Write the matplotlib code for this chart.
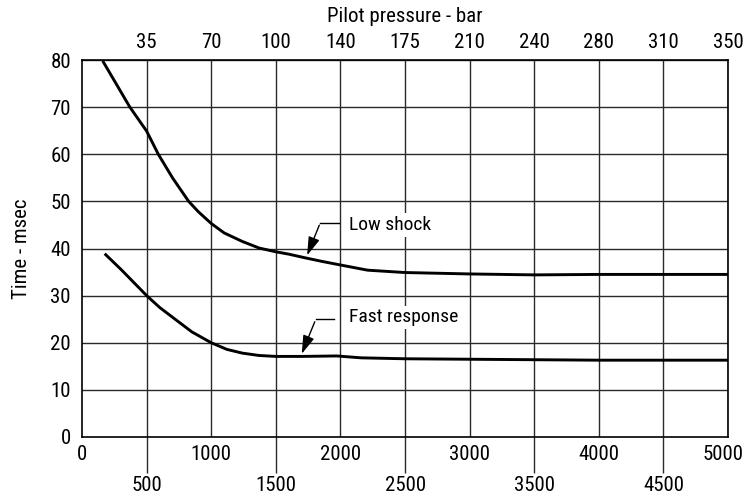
import matplotlib
matplotlib.use("Agg")
import matplotlib.pyplot as plt
from matplotlib import font_manager
from matplotlib.transforms import ScaledTranslation
import numpy as np

# pick a condensed sans if one is installed, else Roboto
names = sorted({f.name for f in font_manager.fontManager.ttflist})
choice = None
stretch = 'normal'
for cand in ['Liberation Sans Narrow', 'Roboto Condensed', 'Open Sans Condensed', 'Noto Sans Condensed']:
    if cand in names:
        choice = cand
        break
if choice is None:
    cond = [f for f in font_manager.fontManager.ttflist
            if f.name == 'DejaVu Sans' and str(f.stretch) in ('condensed', 'semi-condensed', '87.5', '75')]
    if cond:
        choice = 'DejaVu Sans'
        stretch = 'condensed'
    else:
        choice = 'Roboto'
plt.rcParams['font.family'] = [choice, 'DejaVu Sans']
plt.rcParams['font.stretch'] = stretch

# Data (psi on bottom axis, msec on y)
low_psi = [160, 370, 500, 590, 700, 825, 900, 1000, 1100, 1240, 1370, 1500, 1600, 1730, 1850, 2000, 2210, 2500, 3000, 3500, 4000, 4500, 5000]
low_ms = [79.8, 70.0, 64.9, 60.0, 55.0, 50.0, 47.8, 45.3, 43.3, 41.5, 40.1, 39.3, 38.8, 38.0, 37.3, 36.5, 35.4, 34.9, 34.6, 34.4, 34.5, 34.5, 34.5]
fast_psi = [175, 300, 400, 500, 600, 720, 850, 1000, 1120, 1240, 1370, 1500, 1700, 1970, 2160, 2500, 3000, 3500, 4000, 4500, 5000]
fast_ms = [38.9, 35.6, 32.8, 30.0, 27.5, 25.0, 22.3, 20.0, 18.6, 17.8, 17.3, 17.1, 17.1, 17.2, 16.8, 16.6, 16.5, 16.4, 16.3, 16.3, 16.3]

bottom_major = [0, 1000, 2000, 3000, 4000, 5000]
bottom_minor = [500, 1500, 2500, 3500, 4500]
top_pos = [500, 1000, 1500, 2000, 2500, 3000, 3500, 4000, 4500, 5000]
top_labels = ['35', '70', '100', '140', '175', '210', '240', '280', '310', '350']
y_ticks = [0, 10, 20, 30, 40, 50, 60, 70, 80]

FS = 15
fig = plt.figure(figsize=(7.46, 5.0), dpi=100)
ax = fig.add_axes([0.110, 0.126, 0.866, 0.754])
ax.set_xlim(0, 5000)
ax.set_ylim(0, 80)

grid_c = '#2a2a2a'
for x in top_pos:
    ax.axvline(x, color=grid_c, lw=1.0, zorder=1)
for y in y_ticks[1:]:
    ax.axhline(y, color=grid_c, lw=1.0, zorder=1)

ax.plot(low_psi, low_ms, color='black', lw=2.1, zorder=3, solid_capstyle='butt', solid_joinstyle='round')
ax.plot(fast_psi, fast_ms, color='black', lw=2.1, zorder=3, solid_capstyle='butt', solid_joinstyle='round')

for s in ax.spines.values():
    s.set_color('black')
    s.set_linewidth(1.2)

ax.set_yticks(y_ticks)
ax.tick_params(axis='y', length=0, pad=8, labelsize=FS)
ax.set_xticks(bottom_major)
ax.set_xticks(bottom_minor, minor=True)
ax.set_xticklabels([str(v) for v in bottom_major])
ax.set_xticklabels([str(v) for v in bottom_minor], minor=True)
ax.tick_params(axis='x', which='major', length=0, pad=6, labelsize=FS)
ax.tick_params(axis='x', which='minor', length=26, width=1.0, color=grid_c, pad=2, labelsize=FS)

# nudge the right-most bottom label slightly left, as in the reference
last = ax.get_xticklabels()[-1]
last.set_transform(last.get_transform() + ScaledTranslation(-5 / 100, 0, fig.dpi_scale_trans))

ax.set_ylabel('Time - msec', fontsize=FS, labelpad=14)

top = ax.secondary_xaxis('top')
top.set_xticks(top_pos)
top.set_xticklabels(top_labels)
top.tick_params(length=0, pad=6, labelsize=FS)
top.spines['top'].set_visible(False)
top.set_xlabel('Pilot pressure - bar', fontsize=FS, labelpad=8)

bb = dict(facecolor='white', edgecolor='none', pad=2)
ax.text(2065, 45.0, 'Low shock', fontsize=14, va='center', ha='left', bbox=bb, zorder=4)
ax.text(2065, 25.4, 'Fast response', fontsize=14, va='center', ha='left', bbox=bb, zorder=4)

# leader lines with arrows
ax.plot([1987, 1844], [45.5, 45.5], color='black', lw=1.0, zorder=4)
ax.annotate('', xy=(1734, 38.0), xytext=(1844, 45.5),
            arrowprops=dict(arrowstyle='-|>,head_width=0.25,head_length=0.8', color='black', lw=1.0, mutation_scale=14), zorder=4)
ax.plot([1953, 1809], [25.0, 25.0], color='black', lw=1.0, zorder=4)
ax.annotate('', xy=(1692, 17.1), xytext=(1809, 25.0),
            arrowprops=dict(arrowstyle='-|>,head_width=0.25,head_length=0.8', color='black', lw=1.0, mutation_scale=14), zorder=4)

fig.savefig('out.png', dpi=100)
